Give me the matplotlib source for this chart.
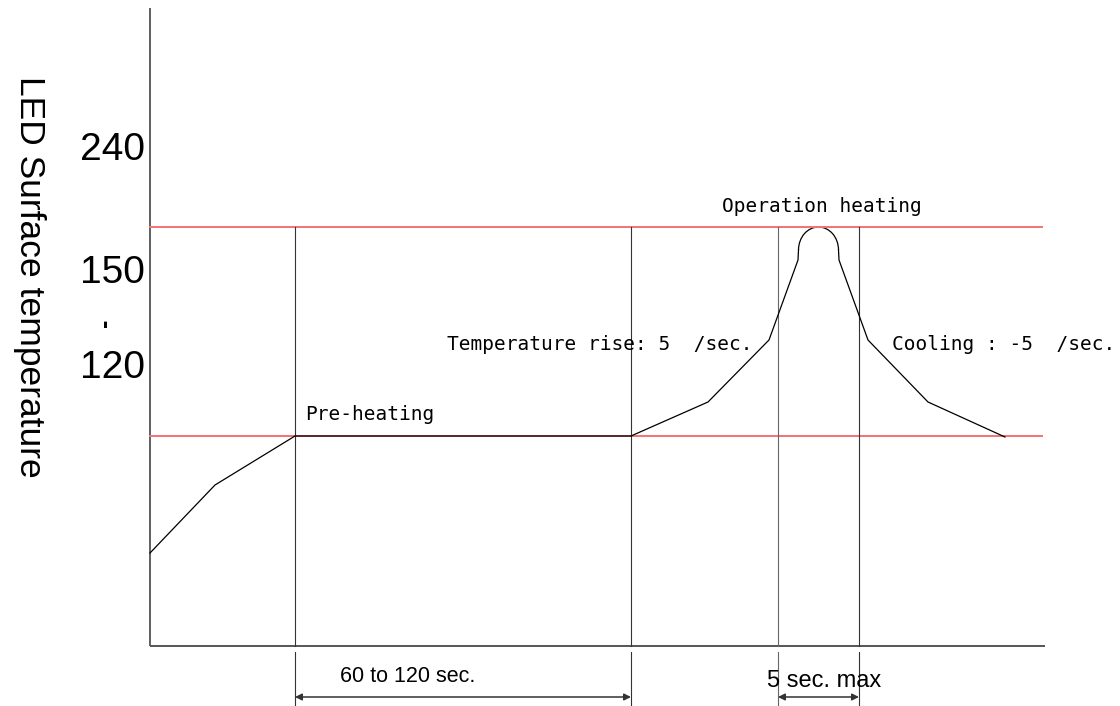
import matplotlib.pyplot as plt
from matplotlib.patches import Arc

# drawing units: 1 unit = 1 px, origin at the axis corner
profile_x = [0, 65, 145, 481, 558, 619, 648, 648.5]
profile_y = [93, 161, 210, 210, 244, 306, 386, 396]
cool_x = [688.5, 689, 718, 778, 855]
cool_y = [396, 386, 306, 244, 209]
peak_center = (668.5, 396)
peak_w, peak_h = 40, 46

level_peak = 419      # 240 line
level_pre = 210       # pre-heating line
line_end = 892
zone_x = [145, 481, 628, 709]

ytick_labels = ['240', '150', '-', '120']
ytick_pos = [496, 373, 323, 278]

fig = plt.figure(figsize=(11.2, 7.06), dpi=100)
ax = fig.add_axes([0, 0, 1, 1])
ax.set_xlim(-150, 970)
ax.set_ylim(-60, 646)
ax.axis('off')

# axes
ax.plot([0, 0], [0, 638], color='#444444', lw=1.2, solid_capstyle='butt')
ax.plot([0, 895], [0, 0], color='#555555', lw=1.4, solid_capstyle='butt')

# red reference lines
for lv in [level_peak, level_pre]:
    ax.plot([0, line_end], [lv, lv], color='#f47272', lw=1.4)

# zone verticals + extension lines
for i, zx in enumerate(zone_x):
    c = '#333333' if i != 2 else '#666666'
    ax.plot([zx, zx], [0, level_peak], color=c, lw=0.8)
    ax.plot([zx, zx], [-6, -60], color=c, lw=0.8)

# temperature profile
ax.plot(profile_x, profile_y, color='black', lw=0.9)
ax.plot(cool_x, cool_y, color='black', lw=0.9)
ax.add_patch(Arc(peak_center, peak_w, peak_h, theta1=0, theta2=180,
                 color='black', lw=0.9))

# dimension arrows
for a, b in [(zone_x[0], zone_x[1]), (zone_x[2], zone_x[3])]:
    ax.annotate('', xy=(a, -51), xytext=(b, -51),
                arrowprops=dict(arrowstyle='<|-|>', color='#333333', lw=1.1,
                                mutation_scale=10, shrinkA=0, shrinkB=0))

sans = 'Liberation Sans'
mono = 'DejaVu Sans Mono'

# y labels
for lab, yp in zip(ytick_labels, ytick_pos):
    if lab == '-':
        ax.text(-45, yp, lab, fontsize=18, fontweight='bold', family=sans,
                rotation=90, ha='center', va='center')
    else:
        ax.text(-5, yp, lab, fontsize=28, family=sans, ha='right', va='center')

ax.text(-121, 369, 'LED Surface temperature', fontsize=25.5, family=sans,
        rotation=270, ha='center', va='center')

ax.text(572, 439, 'Operation heating', fontsize=14, family=mono, va='center')
ax.text(297, 301, 'Temperature rise: 5  /sec.', fontsize=14, family=mono, va='center')
ax.text(742, 301, 'Cooling : -5  /sec.', fontsize=14, family=mono, va='center')
ax.text(155, 231, 'Pre-heating', fontsize=14, family=mono, va='center')
ax.text(258, -31, '60 to 120 sec.', fontsize=15.5, family=sans, ha='center', va='center')
ax.text(617, -35, '5 sec. max', fontsize=17, family=sans, va='center')

fig.savefig('out.png', dpi=100)
